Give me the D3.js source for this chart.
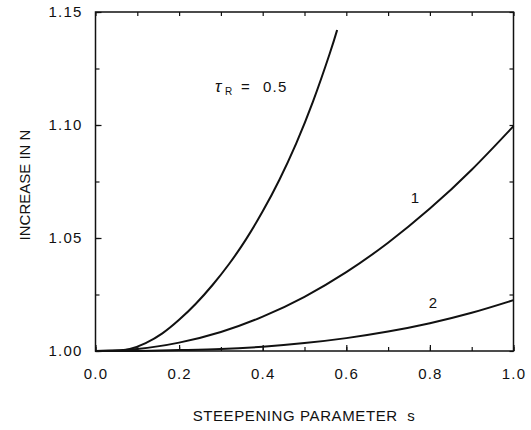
<!DOCTYPE html>
<html>
<head>
<meta charset="utf-8">
<script src="https://cdn.jsdelivr.net/npm/d3@7"></script>
<style>
  body { margin: 0; background: #fff; }
  text { font-family: "Liberation Sans", Arial, sans-serif; fill: #111; white-space: pre; }
</style>
</head>
<body>
<div id="chart"></div>
<script>
// steepening parameter s
let sHalf = [0, 0.04, 0.08, 0.12, 0.16, 0.2, 0.24, 0.28, 0.32, 0.36, 0.4, 0.44, 0.48, 0.52, 0.56, 0.578];
let tau05 = [1.0, 1.0, 1.0008, 1.0035, 1.0078, 1.0138, 1.0209, 1.0292, 1.0386, 1.0494, 1.0618, 1.0758, 1.0918, 1.1102, 1.1314, 1.142];

let sFull = [0, 0.1, 0.2, 0.3, 0.4, 0.5, 0.6, 0.7, 0.8, 0.9, 1.0];
let tau1 = [1.0, 1.0009, 1.0037, 1.0084, 1.0152, 1.024, 1.0349, 1.0479, 1.063, 1.0802, 1.0995];
let tau2 = [1.0, 1.0, 1.0004, 1.0009, 1.0019, 1.0035, 1.0057, 1.0086, 1.0123, 1.0169, 1.0225];

let xTicks = [0, 0.2, 0.4, 0.6, 0.8, 1.0];
let yTicks = [1.00, 1.05, 1.10, 1.15];
let xMinor = d3.range(0, 1.0001, 0.1);
let yMinor = d3.range(1.0, 1.1501, 0.025);

let margin = { top: 12, right: 17.5, bottom: 79, left: 95.5 };
let width = 531 - margin.left - margin.right;
let height = 430 - margin.top - margin.bottom;

let svg = d3.select("#chart")
    .append("svg")
    .attr("width", 531)
    .attr("height", 430)
    .append("g")
    .attr("transform", "translate(" + margin.left + "," + margin.top + ")");

let x = d3.scaleLinear().domain([0, 1]).range([0, width]);
let y = d3.scaleLinear().domain([1.0, 1.15]).range([height, 0]);

// minor ticks on all four sides
function minor(axis, sel) {
    sel.call(axis.tickSize(-4).tickFormat(""));
    sel.select(".domain").remove();
    sel.selectAll("line").attr("stroke", "#111").attr("stroke-width", 1.2);
}
minor(d3.axisBottom(x).tickValues(xMinor), svg.append("g").attr("transform", "translate(0," + height + ")"));
minor(d3.axisTop(x).tickValues(xMinor), svg.append("g"));
minor(d3.axisLeft(y).tickValues(yMinor), svg.append("g"));
minor(d3.axisRight(y).tickValues(yMinor), svg.append("g").attr("transform", "translate(" + width + ",0)"));

// major ticks with labels
let xAxis = svg.append("g")
    .attr("transform", "translate(0," + height + ")")
    .call(d3.axisBottom(x).tickValues(xTicks).tickSize(-6).tickPadding(17).tickFormat(d3.format(".1f")));
let yAxis = svg.append("g")
    .call(d3.axisLeft(y).tickValues(yTicks).tickSize(-6).tickPadding(13).tickFormat(d3.format(".2f")));
[xAxis, yAxis].forEach(function (a) {
    a.select(".domain").remove();
    a.selectAll("line").attr("stroke", "#111").attr("stroke-width", 1.2);
    a.selectAll("text")
        .style("font-family", "'Liberation Sans', Arial, sans-serif")
        .style("font-size", "15px")
        .style("letter-spacing", "1.2px")
        .attr("fill", "#111");
});

// frame
svg.append("rect")
    .attr("width", width)
    .attr("height", height)
    .attr("fill", "none")
    .attr("stroke", "#111")
    .attr("stroke-width", 1.5);

let line = d3.line()
    .x(function (d) { return x(d[0]); })
    .y(function (d) { return y(d[1]); })
    .curve(d3.curveNatural);

let series = [
    d3.zip(sHalf, tau05),
    d3.zip(sFull, tau1),
    d3.zip(sFull, tau2)
];

svg.selectAll(".curve")
    .data(series)
    .enter().append("path")
    .attr("class", "curve")
    .attr("d", line)
    .attr("fill", "none")
    .attr("stroke", "#111")
    .attr("stroke-width", 2);

// curve labels
let tauLabel = svg.append("text")
    .attr("y", 92 - margin.top)
    .style("font-size", "15px");
tauLabel.append("tspan").attr("x", 215 - margin.left).text("τ")
    .style("font-style", "italic").style("font-size", "17px");
tauLabel.append("tspan").attr("x", 225 - margin.left).attr("dy", 3).text("R")
    .style("font-size", "10px");
tauLabel.append("tspan").attr("x", 241 - margin.left).attr("dy", -3).text("=");
tauLabel.append("tspan").attr("x", 263 - margin.left).text("0.5")
    .style("letter-spacing", "1.2px");

svg.append("text")
    .attr("x", 415 - margin.left)
    .attr("y", 203 - margin.top)
    .attr("text-anchor", "middle")
    .style("font-size", "15px")
    .text("1");

svg.append("text")
    .attr("x", 433 - margin.left)
    .attr("y", 308 - margin.top)
    .attr("text-anchor", "middle")
    .style("font-size", "15px")
    .text("2");

// axis titles
svg.append("text")
    .attr("x", 304 - margin.left)
    .attr("y", 421 - margin.top)
    .attr("text-anchor", "middle")
    .style("font-size", "15px")
    .style("letter-spacing", "0.6px")
    .text("STEEPENING PARAMETER  s");

svg.append("text")
    .attr("transform", "translate(" + (30 - margin.left) + "," + (185 - margin.top) + ") rotate(-90)")
    .attr("text-anchor", "middle")
    .style("font-size", "15px")
    .text("INCREASE IN N");
</script>
</body>
</html>
